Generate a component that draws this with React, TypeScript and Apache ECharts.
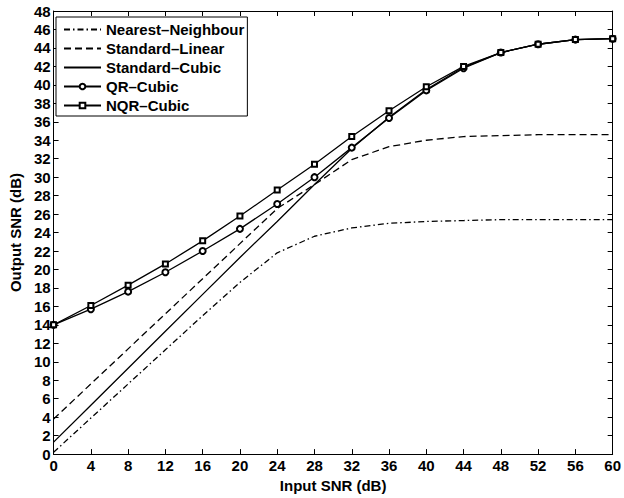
import React, { useEffect, useRef } from "react";
import * as echarts from "echarts";

// Input SNR sampling points (dB)
const inputSnr = [0, 4, 8, 12, 16, 20, 24, 28, 32, 36, 40, 44, 48, 52, 56, 60];

// Output SNR (dB) for each interpolation method
const nearestNeighbour = [0.2, 3.9, 7.6, 11.3, 15.0, 18.6, 21.8, 23.6, 24.5, 25.0, 25.2, 25.3, 25.4, 25.4, 25.4, 25.4];
const standardLinear = [3.8, 7.6, 11.4, 15.2, 19.0, 22.8, 26.6, 29.2, 31.9, 33.3, 34.0, 34.4, 34.5, 34.6, 34.6, 34.6];
const standardCubic = [1.3, 5.3, 9.3, 13.3, 17.3, 21.3, 25.2, 29.2, 33.1, 36.5, 39.5, 41.9, 43.5, 44.4, 44.9, 45.0];
const qrCubic = [14.0, 15.7, 17.6, 19.7, 22.0, 24.4, 27.1, 30.0, 33.2, 36.4, 39.4, 41.8, 43.5, 44.4, 44.9, 45.0];
const nqrCubic = [14.0, 16.1, 18.3, 20.6, 23.1, 25.8, 28.6, 31.4, 34.4, 37.2, 39.8, 42.0, 43.5, 44.4, 44.9, 45.0];

const seriesNames = ["Nearest–Neighbour", "Standard–Linear", "Standard–Cubic", "QR–Cubic", "NQR–Cubic"];

const FONT = "'Liberation Sans', Arial, Helvetica, sans-serif";

const pairs = (ys: number[]) => inputSnr.map((x, i) => [x, ys[i]]);

export default function App() {
  const ref = useRef<HTMLDivElement>(null);

  useEffect(() => {
    if (!ref.current) return;
    const chart = echarts.init(ref.current, undefined, { renderer: "svg" });

    const axisCommon = {
      axisLine: { show: true, onZero: false, lineStyle: { color: "#000", width: 1 } },
      axisTick: { show: true, inside: true, length: 5, lineStyle: { color: "#000", width: 1 } },
      splitLine: { show: false },
    };
    const labelStyle = { color: "#000", fontFamily: FONT, fontWeight: "bold" as const, fontSize: 15 };

    const plain = (name: string, data: number[], type: any) => ({
      name,
      type: "line",
      data: pairs(data),
      symbol: "none",
      lineStyle: { color: "#000", width: 1.3, type },
      itemStyle: { color: "#000" },
      z: 2,
    });
    const marked = (name: string, data: number[], symbol: string, size: number) => ({
      name,
      type: "line",
      data: pairs(data),
      symbol,
      symbolSize: size,
      showSymbol: true,
      lineStyle: { color: "#000", width: 1.3 },
      itemStyle: { color: "#000", borderColor: "#000", borderWidth: 1.2 },
      z: 3,
    });

    // line-only entries get an invisible legend marker
    const hiddenMarker = { color: "rgba(0,0,0,0)", borderWidth: 0, opacity: 0 };

    chart.setOption({
      animation: false,
      backgroundColor: "#fff",
      grid: { left: 49, right: 8, top: 11, bottom: 40, containLabel: false },
      legend: {
        orient: "vertical",
        left: 56,
        top: 17,
        data: [
          { name: seriesNames[0], itemStyle: hiddenMarker },
          { name: seriesNames[1], itemStyle: hiddenMarker },
          { name: seriesNames[2], itemStyle: hiddenMarker },
          { name: seriesNames[3] },
          { name: seriesNames[4] },
        ],
        itemWidth: 37,
        itemHeight: 7,
        itemGap: 4,
        itemTextGap: 7,
        padding: [5, 3, 3, 7],
        borderColor: "#000",
        borderWidth: 1,
        backgroundColor: "#fff",
        textStyle: { ...labelStyle },
      },
      xAxis: [
        {
          type: "value",
          min: 0,
          max: 60,
          interval: 4,
          name: "Input SNR (dB)",
          nameLocation: "middle",
          nameGap: 22,
          nameTextStyle: labelStyle,
          axisLabel: { ...labelStyle, margin: 4 },
          ...axisCommon,
        },
        {
          type: "value",
          position: "top",
          min: 0,
          max: 60,
          interval: 4,
          axisLabel: { show: false },
          ...axisCommon,
        },
      ],
      yAxis: [
        {
          type: "value",
          min: 0,
          max: 48,
          interval: 2,
          name: "Output SNR (dB)",
          nameLocation: "middle",
          nameGap: 30,
          nameTextStyle: labelStyle,
          axisLabel: { ...labelStyle, margin: 3 },
          ...axisCommon,
        },
        {
          type: "value",
          position: "right",
          min: 0,
          max: 48,
          interval: 2,
          axisLabel: { show: false },
          ...axisCommon,
        },
      ],
      series: [
        plain(seriesNames[0], nearestNeighbour, [6, 3, 1.5, 3]),
        plain(seriesNames[1], standardLinear, [7, 4]),
        plain(seriesNames[2], standardCubic, "solid"),
        marked(seriesNames[3], qrCubic, "emptyCircle", 6),
        marked(seriesNames[4], nqrCubic, "emptyRect", 5),
      ],
    });

    return () => chart.dispose();
  }, []);

  return <div ref={ref} style={{ width: 624, height: 498, position: "absolute", left: 0, top: 0 }} />;
}
